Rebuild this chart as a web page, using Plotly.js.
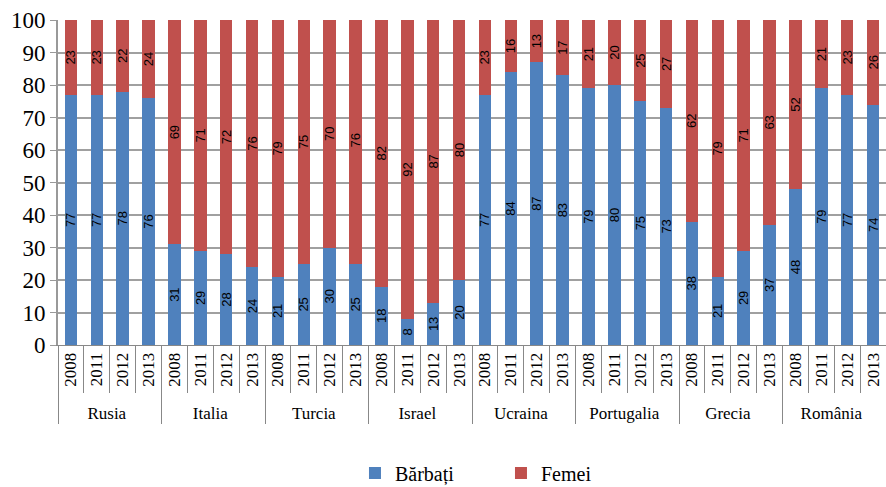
<!DOCTYPE html>
<html>
<head>
<meta charset="utf-8">
<script src="https://cdn.plot.ly/plotly-3.0.1.min.js"></script>
<style>html,body{margin:0;padding:0;background:#fff;}#chart{width:886px;height:487px;}</style>
</head>
<body>
<div id="chart"></div>
<script>
const countries = ['Rusia','Italia','Turcia','Israel','Ucraina','Portugalia','Grecia','România'];
const years = ['2008','2011','2012','2013'];
const barbati = [77,77,78,76, 31,29,28,24, 21,25,30,25, 18,8,13,20, 77,84,87,83, 79,80,75,73, 38,21,29,37, 48,79,77,74];
const femei = [23,23,22,24, 69,71,72,76, 79,75,70,76, 82,92,87,80, 23,16,13,17, 21,20,25,27, 62,79,71,63, 52,21,23,26];
const seriesNames = ['Bărbați','Femei'];

const outer = [], inner = [];
countries.forEach(c => years.forEach(y => { outer.push(c); inner.push(y); }));

const SERIF = '"Times New Roman", "Liberation Serif", serif';
const txtFont = {family: '"Liberation Sans", Arial, sans-serif', size: 13, color: '#000'};
function mk(name, vals, color){
  return {
    type: 'bar', name: name, x: [outer, inner], y: vals,
    marker: {color: color},
    text: vals.map(String), textposition: 'inside', insidetextanchor: 'middle',
    textangle: -90, constraintext: 'none', textfont: txtFont,
    hoverinfo: 'y+name'
  };
}
const data = [mk(seriesNames[0], barbati, '#4F81BD'), mk(seriesNames[1], femei, '#C0504D')];

const layout = {
  width: 886, height: 487,
  margin: {l: 58, r: 0, t: 20, b: 142, autoexpand: false},
  barmode: 'stack', bargap: 0.52,
  paper_bgcolor: '#fff', plot_bgcolor: '#fff',
  font: {family: SERIF, color: '#000'},
  xaxis: {
    type: 'multicategory', tickangle: -90, automargin: false,
    tickfont: {family: SERIF, size: 17, color: '#000'},
    showdividers: true, dividercolor: '#888', dividerwidth: 1,
    showline: true, linecolor: '#888', linewidth: 1,
    ticks: 'outside', tickson: 'boundaries', ticklen: 47, tickcolor: '#888', tickwidth: 1,
    showgrid: false
  },
  yaxis: {
    range: [0, 100], dtick: 10, tick0: 0, automargin: false,
    tickfont: {family: SERIF, size: 23, color: '#000'},
    showline: true, linecolor: '#999', linewidth: 2,
    ticks: 'outside', ticklen: 6, tickcolor: '#999', tickwidth: 1,
    showgrid: true, gridcolor: '#a0a0a0', gridwidth: 2, zeroline: false
  },
  legend: {
    orientation: 'h', x: 0.535, xanchor: 'center',
    y: -0.394, yanchor: 'middle',
    font: {family: SERIF, size: 20, color: '#000'},
    entrywidth: 101, traceorder: 'normal'
  },
  showlegend: true
};
Plotly.newPlot('chart', data, layout, {displayModeBar: false, staticPlot: true});
</script>
</body>
</html>
